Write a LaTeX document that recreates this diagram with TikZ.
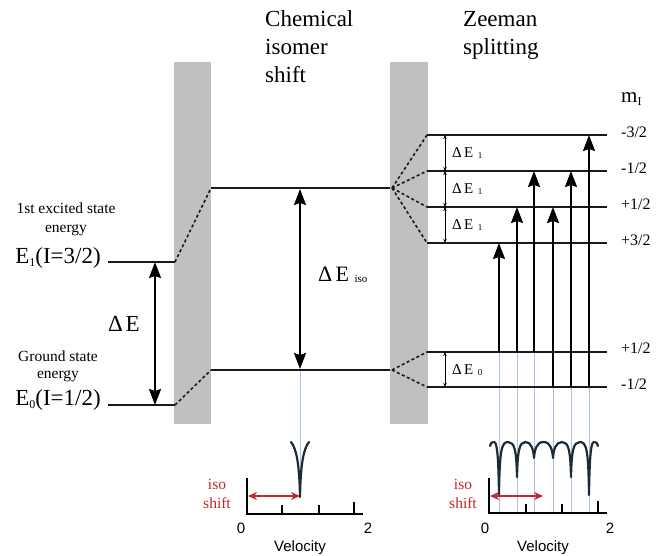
\documentclass[tikz,border=0pt]{standalone}
\usepackage{fontspec}
\setmainfont{Liberation Serif}
\setsansfont{Liberation Sans}
\usetikzlibrary{arrows.meta,calc}
\definecolor{barg}{HTML}{C0C0C0}
\definecolor{specc}{HTML}{1D2A38}
\definecolor{bluel}{HTML}{A9C4E4}
\definecolor{isored}{HTML}{C1272D}
\newcommand{\fs}[1]{\fontsize{#1}{#1}\selectfont}
\newcommand{\lowsub}[1]{\raisebox{-3.5pt}{\fs{12}#1}}
\begin{document}
\begin{tikzpicture}[x=1pt,y=-1pt,
  level/.style={line width=1.8pt, draw=black!90},
  dashlink/.style={line width=1.6pt, dash pattern=on 3pt off 2.5pt, draw=black!90},
  bigarrow/.style={line width=1.8pt, {Stealth[length=16pt,width=12pt,inset=2pt]}-{Stealth[length=16pt,width=12pt,inset=2pt]}},
  trans/.style={line width=1.8pt, -{Stealth[length=16pt,width=12pt,inset=2pt]}},
  smallarrow/.style={line width=0.7pt, {Stealth[length=4pt,width=3.5pt]}-{Stealth[length=4pt,width=3.5pt]}},
  blueline/.style={line width=0.8pt, draw=bluel},
  spec/.style={line width=2.2pt, draw=specc, line join=round, line cap=round},
  axisline/.style={line width=1.5pt, draw=black},
  redarrow/.style={line width=1.6pt, draw=isored, {Stealth[length=9pt,width=8pt]}-{Stealth[length=9pt,width=8pt]}},
  lbl/.style={inner sep=0pt, anchor=base},
  lblw/.style={inner sep=0pt, anchor=base west},
  redlbl/.style={inner sep=0pt, anchor=base, text=isored, font=\fs{15.5}},
  vel/.style={inner sep=0pt, anchor=base, font=\sffamily\fs{15}},
  mlbl/.style={inner sep=0pt, anchor=west, font=\fs{16}},
  dlbl/.style={inner sep=0pt, anchor=west, font=\fs{15}}
]
\useasboundingbox (0,0) rectangle (656,556);

% grey bars
\fill[barg] (174,62) rectangle (211,424);
\fill[barg] (390,62) rectangle (428,424);

% headings
\node[lblw, font=\fs{23}] (h1) at (265,27) {Chemical};
\node[lblw, font=\fs{23}] (h2) at (265,55) {isomer};
\node[lblw, font=\fs{23}] (h3) at (265,83) {shift};
\node[lblw, font=\fs{23}] (z1) at (463,27) {Zeeman};
\node[lblw, font=\fs{23}] (z2) at (463,55) {splitting};

% left labels
\node[lbl, font=\fs{15.5}] (t1) at (66,214) {1st excited state};
\node[lbl, font=\fs{15.5}] (t2) at (66,233) {energy};
\node[lbl, font=\fs{23}] (e1t) at (58,263) {E\lowsub{1}(I=3/2)};
\node[lbl, font=\fs{15.5}] (g1) at (58,361) {Ground state};
\node[lbl, font=\fs{15.5}] (g2) at (58,378) {energy};
\node[lbl, font=\fs{23}] (e0t) at (58,405) {E\lowsub{0}(I=1/2)};

% coordinates
\coordinate (e1l) at (108,262); \coordinate (e1r) at (175,262);
\coordinate (e0l) at (108,405); \coordinate (e0r) at (175,405);
\coordinate (mtl) at (211,188); \coordinate (mtr) at (390,188);
\coordinate (mbl) at (211,370); \coordinate (mbr) at (390,370);
\coordinate (ft) at (392,188); \coordinate (fb) at (392,370);

\foreach \n/\y in {a/135,b/171,c/207,d/243,g/352,h/387}{
  \coordinate (\n l) at (427,\y);
  \coordinate (\n r) at (607,\y);
}

% blue guide lines
\coordinate (bm1) at (300,370); \coordinate (bm2) at (300,497);
\draw[blueline] (bm1) -- (bm2);
\foreach \i/\x/\s in {1/499/352,2/517/352,3/534/352,4/553/387,5/571/387,6/589/387}{
  \coordinate (bs\i) at (\x,\s); \coordinate (be\i) at (\x,513);
  \draw[blueline] (bs\i) -- (be\i);
}

% levels
\draw[level] (e1l) -- (e1r);
\draw[level] (e0l) -- (e0r);
\draw[level] (mtl) -- (mtr);
\draw[level] (mbl) -- (mbr);
\foreach \n in {a,b,c,d,g,h}{\draw[level] (\n l) -- (\n r);}

% dashed links
\draw[dashlink] (e1r) -- (mtl);
\draw[dashlink] (e0r) -- (mbl);
\foreach \n in {a,b,c,d}{\draw[dashlink] (ft) -- (\n l);}
\foreach \n in {g,h}{\draw[dashlink] (fb) -- (\n l);}

% Delta E (left)
\coordinate (dEt) at (155,262); \coordinate (dEb) at (155,405);
\draw[bigarrow] (dEt) -- (dEb);
\node[lbl, font=\fs{23}] (dE) at (124,331) {Δ\hspace{0.12em}E};

% Delta E iso
\coordinate (dit) at (300,189); \coordinate (dib) at (300,369);
\draw[bigarrow] (dit) -- (dib);
\node[lblw, font=\fs{22}] (dEiso) at (318,281) {Δ\hspace{0.15em}E\hspace{0.25em}\raisebox{-1.5pt}{\fs{11}iso}};

% small Delta E arrows and labels
\foreach \u/\v in {a/b,b/c,c/d,g/h}{
  \draw[smallarrow] ($(\u l)+(18,0)$) -- ($(\v l)+(18,0)$);
}
\node[dlbl] (l1) at (452,153) {Δ\hspace{0.15em}E\hspace{0.3em}\raisebox{-1pt}{\fs{9}1}};
\node[dlbl] (l2) at (452,189) {Δ\hspace{0.15em}E\hspace{0.3em}\raisebox{-1pt}{\fs{9}1}};
\node[dlbl] (l3) at (452,225) {Δ\hspace{0.15em}E\hspace{0.3em}\raisebox{-1pt}{\fs{9}1}};
\node[dlbl] (l0) at (452,370) {Δ\hspace{0.15em}E\hspace{0.3em}\raisebox{-1pt}{\fs{9}0}};

% transitions
\foreach \i/\x/\s/\e in {1/499/352/243,2/517/352/207,3/534/352/171,4/553/387/207,5/571/387/171,6/589/387/135}{
  \coordinate (ts\i) at (\x,\s); \coordinate (te\i) at (\x,\e);
  \draw[trans] (ts\i) -- (te\i);
}

% m_I labels
\node[inner sep=0pt, anchor=west, font=\fs{21}] (mI) at (621,99) {m\raisebox{-3pt}{\fs{12}I}};
\node[mlbl] (m1) at (621,132) {-3/2};
\node[mlbl] (m2) at (621,168) {-1/2};
\node[mlbl] (m3) at (621,204) {+1/2};
\node[mlbl] (m4) at (621,240) {+3/2};
\node[mlbl] (m5) at (621,348) {+1/2};
\node[mlbl] (m6) at (621,384) {-1/2};

% spectra
\draw[spec] (291,442) .. controls (296,448) and (299.4,462) .. (300,497)
  .. controls (300.6,462) and (304,448) .. (309,442);
\draw[spec] (490,446) .. controls (491,442.5) and (492,442) .. (494,442)
 .. controls (496.5,442) and (498.4,450) .. (499,495)
 .. controls (499.6,450) and (501.5,442) .. (508,442)
 .. controls (514.5,442) and (516.4,450) .. (517,477)
 .. controls (517.6,450) and (519.5,442) .. (525.5,442)
 .. controls (531.5,442) and (533.4,450) .. (534,458)
 .. controls (534.6,450) and (536.5,442) .. (543.5,442)
 .. controls (550.5,442) and (552.4,450) .. (553,458)
 .. controls (553.6,450) and (555.5,442) .. (562,442)
 .. controls (568.5,442) and (570.4,450) .. (571,477)
 .. controls (571.6,450) and (573.5,442) .. (580,442)
 .. controls (586.5,442) and (588.4,450) .. (589,495)
 .. controls (589.6,450) and (591.5,442) .. (594,442)
 .. controls (596,442) and (597,442.5) .. (598,446);

% axes (middle)
\coordinate (ma0) at (247,478); \coordinate (ma1) at (363,514);
\draw[axisline] (ma0) |- (ma1);
\foreach \x/\h in {282/9,319/9,354/12}{\draw[axisline] (\x,514) -- (\x,514-\h);}
\node[vel] (mv0) at (241,533) {0};
\node[vel] (mv2) at (368,533) {2};
\node[vel] (mvel) at (300,551) {Velocity};
\coordinate (mr0) at (248,496); \coordinate (mr1) at (300,496);
\draw[redarrow] (mr0) -- (mr1);
\node[redlbl] (mi1) at (217,489) {iso};
\node[redlbl] (mi2) at (217,508) {shift};

% axes (right)
\coordinate (ra0) at (489,478); \coordinate (ra1) at (607,513);
\draw[axisline] (ra0) |- (ra1);
\foreach \x/\h in {526/9,562/9,598/12}{\draw[axisline] (\x,513) -- (\x,513-\h);}
\node[vel] (rv0) at (485,533) {0};
\node[vel] (rv2) at (610,533) {2};
\node[vel] (rvel) at (543,551) {Velocity};
\coordinate (rr0) at (490,496); \coordinate (rr1) at (543,496);
\draw[redarrow] (rr0) -- (rr1);
\node[redlbl] (ri1) at (463,489) {iso};
\node[redlbl] (ri2) at (463,508) {shift};
\end{tikzpicture}
\end{document}
